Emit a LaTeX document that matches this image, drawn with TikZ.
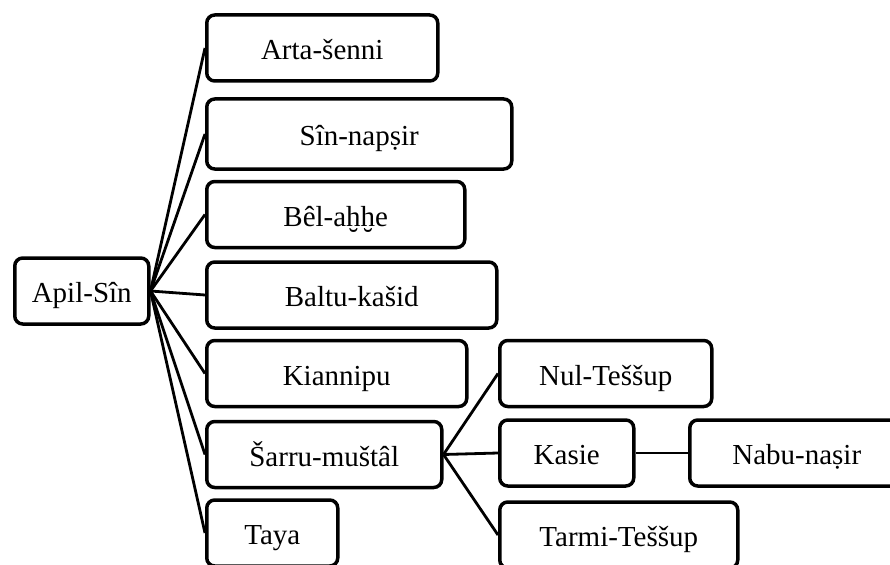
\documentclass[tikz,border=0pt]{standalone}
\usepackage{fontspec}
\setmainfont{Liberation Serif}

\tikzset{
  person/.style={draw, line width=3.5pt, rounded corners=8pt, anchor=west,
    inner sep=0pt, minimum height=66pt, text height=23pt, text depth=0pt,
    font=\fontsize{29}{34}\selectfont},
  kin/.style={line width=2.8pt}
}

\begin{document}
\begin{tikzpicture}[x=1pt, y=-1pt]
        \useasboundingbox (0,0) rectangle (890,564);
        \clip (0,0) rectangle (890,564);

        \node (apil) at (13,291)[person, minimum width=134pt] {Apil-Sîn};

        % sons of Apil-Sin
        \node (sin) at (205,134)[person, minimum width=305pt, minimum height=70pt] {Sîn-napṣir};
        \draw[kin] (apil.east) -- (sin.west);
        \foreach \n/\y/\w/\t in {arta/48/231/Arta-šenni,
            bel/214.5/258/Bêl-aḫḫe, baltu/295/290/Baltu-kašid,
            kian/373.5/260/Kiannipu, sarru/454.5/235/Šarru-muštâl, taya/533/131/Taya} {
            \node (\n) at (205,\y)[person, minimum width=\w pt] {\t};
            \draw[kin] (apil.east) -- (\n.west);
        }

        % sons of Sarru-mustal
        \foreach \n/\y/\w/\t in {nul/373.5/212/Nul-Teššup, kasie/453/134/Kasie,
            tarmi/535/238/Tarmi-Teššup} {
            \node (\n) at (498,\y)[person, minimum width=\w pt] {\t};
            \draw[kin] (sarru.east) -- (\n.west);
        }

        \node (nabu) at (688,453)[person, minimum width=214pt] {Nabu-naṣir};
        \draw[kin] (kasie) -- (nabu);
    \end{tikzpicture}
\end{document}
